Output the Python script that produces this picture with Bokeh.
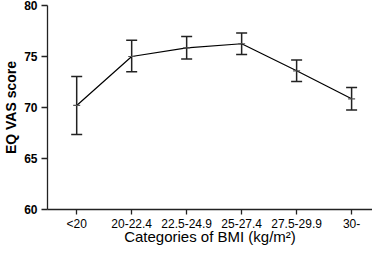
from bokeh.plotting import figure
from bokeh.models import Range1d, FixedTicker, Whisker, TeeHead, ColumnDataSource
from bokeh.embed import file_html
from bokeh.resources import INLINE

categories = ["<20", "20-22.4", "22.5-24.9", "25-27.4", "27.5-29.9", "30-"]
mean_vas = [70.2, 75.0, 75.85, 76.25, 73.6, 70.85]
upper_ci = [73.05, 76.6, 76.95, 77.3, 74.65, 71.95]
lower_ci = [67.35, 73.5, 74.75, 75.2, 72.55, 69.75]
y_ticks = [60, 65, 70, 75, 80]
x_title = "Categories of BMI (kg/m\u00b2)"
y_title = "EQ VAS score"

xpos = list(range(1, len(categories) + 1))
src = ColumnDataSource(dict(x=xpos, y=mean_vas, up=upper_ci, lo=lower_ci))

p = figure(width=372, height=247, output_backend="svg", toolbar_location=None,
           x_range=Range1d(0.469, 6.38), y_range=Range1d(60, 80),
           min_border_left=38, min_border_right=0, min_border_top=5, min_border_bottom=20)
p.outline_line_color = None
p.grid.visible = False
p.background_fill_color = "white"

w = Whisker(base="x", upper="up", lower="lo", source=src,
            line_color="#222222", line_width=1.5,
            upper_head=TeeHead(size=11, line_color="#222222", line_width=1.5),
            lower_head=TeeHead(size=11, line_color="#222222", line_width=1.5))
p.add_layout(w)
p.line("x", "y", source=src, line_color="black", line_width=1.2)
p.scatter("x", "y", source=src, marker="dash", size=7, line_color="#555555", line_width=1.2)

font = "Liberation Sans"
p.yaxis.ticker = FixedTicker(ticks=y_ticks)
p.yaxis.axis_label = y_title
p.yaxis.axis_label_text_font = font
p.yaxis.axis_label_text_font_style = "bold"
p.yaxis.axis_label_text_font_size = "14px"
p.yaxis.axis_label_standoff = 2
p.yaxis.major_label_text_font = font
p.yaxis.major_label_text_font_style = "bold"
p.yaxis.major_label_text_font_size = "12px"
p.yaxis.major_label_standoff = 4
p.yaxis.major_tick_out = 6
p.yaxis.major_tick_in = 0
p.yaxis.minor_tick_line_color = None

p.xaxis.ticker = FixedTicker(ticks=xpos)
p.xaxis.major_label_overrides = {i: c for i, c in zip(xpos, categories)}
p.xaxis.axis_label = x_title
p.xaxis.axis_label_text_font = font
p.xaxis.axis_label_text_font_style = "normal"
p.xaxis.axis_label_text_font_size = "15px"
p.xaxis.axis_label_standoff = -6
p.xaxis.major_label_text_font = font
p.xaxis.major_label_text_font_size = "12px"
p.xaxis.major_label_standoff = 2
p.xaxis.major_tick_out = 5
p.xaxis.major_tick_in = 0
p.xaxis.minor_tick_line_color = None

for ax in (p.xaxis, p.yaxis):
    ax.axis_line_color = "#222222"
    ax.axis_line_width = 1.3
    ax.major_tick_line_color = "#222222"
    ax.major_tick_line_width = 1.3
    ax.major_label_text_color = "black"
    ax.axis_label_text_color = "black"

open("out.html", "w").write(file_html(p, INLINE))
